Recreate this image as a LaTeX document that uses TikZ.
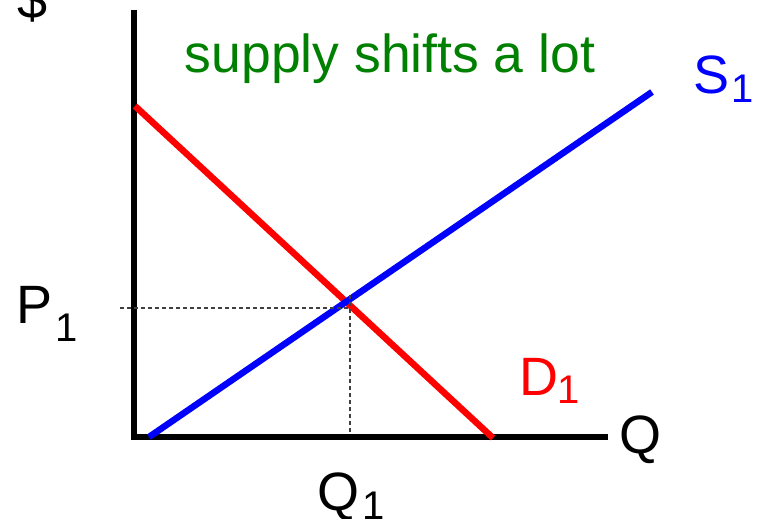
\documentclass[tikz,border=0pt]{standalone}
\usepackage{fontspec}
\setmainfont{Liberation Sans}
\definecolor{sgreen}{RGB}{0,128,0}
\begin{document}
\begin{tikzpicture}[x=1pt,y=-1pt,
  axisline/.style={line width=6pt,black},
  curve/.style={line width=6.5pt},
  guide/.style={line width=1.2pt,black!75,dash pattern=on 4pt off 3pt},
  lbl/.style={inner sep=0pt,anchor=base west,font=\fontsize{54}{60}\selectfont},
  sub/.style={inner sep=0pt,anchor=base west,font=\fontsize{40}{44}\selectfont}]
\useasboundingbox (0,0) rectangle (768,519);
% axes
\coordinate (top) at (134,10);
\coordinate (origin) at (134,437);
\coordinate (qend) at (608,437);
\draw[axisline] (top) -- (origin) -- (qend);
% demand and supply
\coordinate (d0) at (135,106);
\coordinate (d1) at (493,438);
\coordinate (s0) at (149,437);
\coordinate (s1) at (652,92);
\draw[curve,red] (d0) -- (d1);
\draw[curve,blue] (s0) -- (s1);
% guides
\coordinate (ph) at (120,308);
\coordinate (pe) at (350,308);
\coordinate (qv) at (350,295);
\coordinate (qb) at (350,435);
\draw[guide] (ph) -- (pe);
\draw[guide] (qv) -- (qb);
% labels
\node[lbl] (dollar) at (17,19) {\$};
\node[inner sep=0pt,anchor=base,font=\fontsize{53.5}{60}\selectfont,text=sgreen] (title) at (390,73) {supply shifts a lot};
\node[lbl,text=blue] (S) at (693,93) {S};
\node[sub,text=blue] (Ssub) at (731,102) {1};
\node[lbl,text=red] (D) at (519,395) {D};
\node[sub,text=red] (Dsub) at (557,403) {1};
\node[lbl] (Qax) at (619,453) {Q};
\node[lbl] (P) at (16,323) {P};
\node[sub] (Psub) at (55,341) {1};
\node[lbl] (Q) at (317,510) {Q};
\node[sub] (Qsub) at (362,519) {1};
\end{tikzpicture}
\end{document}
